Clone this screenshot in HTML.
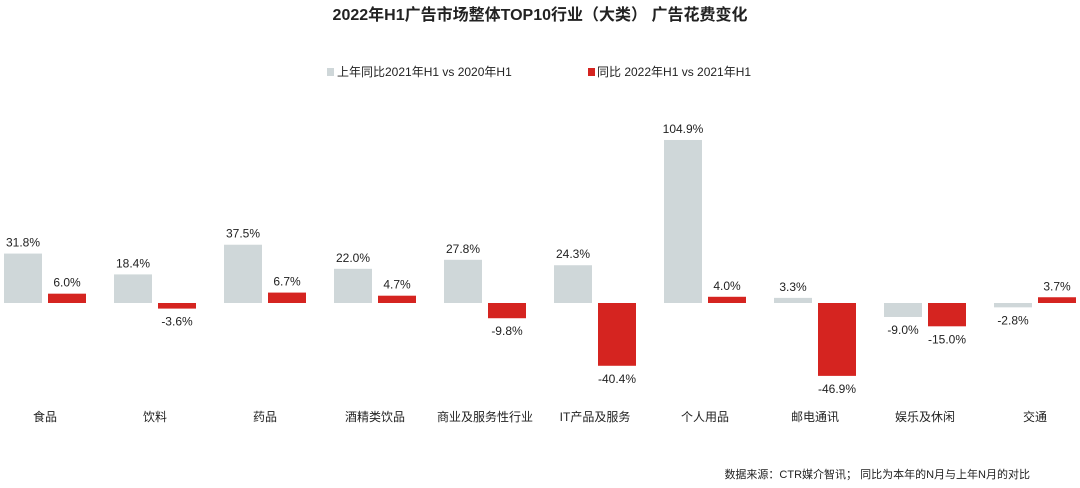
<!DOCTYPE html>
<html><head><meta charset="utf-8"><style>
body{margin:0;background:#fff;}
svg text{font-family:"Liberation Sans","Noto Sans CJK SC",sans-serif;fill:#222;}
</style></head><body>
<svg id="chart" width="1080" height="483" xmlns="http://www.w3.org/2000/svg">
<text x="540" y="20" text-anchor="middle" font-size="16" font-weight="bold">2022年H1广告市场整体TOP10行业（大类） 广告花费变化</text>
<g>
<rect x="327" y="68" width="7" height="8" fill="#cfd7d9"/>
<text x="337" y="76" font-size="12">上年同比2021年H1 vs 2020年H1</text>
<rect x="588" y="68" width="7" height="8" fill="#d52420"/>
<text x="597" y="76" font-size="12">同比 2022年H1 vs 2021年H1</text>
</g>
<g id="bars"></g>
<text x="1030" y="478" text-anchor="end" font-size="11">数据来源：CTR媒介智讯；  同比为本年的N月与上年N月的对比</text>
</svg>
<script>
const categories=["食品","饮料","药品","酒精类饮品","商业及服务性行业","IT产品及服务","个人用品","邮电通讯","娱乐及休闲","交通"];
const prevYoY=[31.8,18.4,37.5,22.0,27.8,24.3,104.9,3.3,-9.0,-2.8];
const currYoY=[6.0,-3.6,6.7,4.7,-9.8,-40.4,4.0,-46.9,-15.0,3.7];
const NS="http://www.w3.org/2000/svg";
const g=document.getElementById('bars');
const zeroY=303, scale=1.554;
function yOf(v){return zeroY-v*scale;}
function xCenter(i){return 45+i*110;}
function bar(x,v,fill,name){
  const r=document.createElementNS(NS,'rect');
  
  
  r.setAttribute('x',x);r.setAttribute('width',38);
  r.setAttribute('y',Math.min(yOf(v),zeroY));
  r.setAttribute('height',Math.abs(v*scale));
  r.setAttribute('fill',fill);g.appendChild(r);
  const t=document.createElementNS(NS,'text');
  
  
  t.setAttribute('x',x+19);t.setAttribute('text-anchor','middle');t.setAttribute('font-size','12');
  t.setAttribute('y',v>=0?yOf(v)-7:yOf(v)+17);
  t.textContent=v.toFixed(1)+'%';g.appendChild(t);
}
categories.forEach((c,i)=>{
  const cx=xCenter(i);
  bar(cx-41,prevYoY[i],'#cfd7d9','bar-2021-'+i);
  bar(cx+3,currYoY[i],'#d52420','bar-2022-'+i);
  const t=document.createElementNS(NS,'text');
  
  
  t.setAttribute('x',cx);t.setAttribute('y',421);t.setAttribute('text-anchor','middle');t.setAttribute('font-size','12');
  t.textContent=c;g.appendChild(t);
});
</script>
</body></html>
